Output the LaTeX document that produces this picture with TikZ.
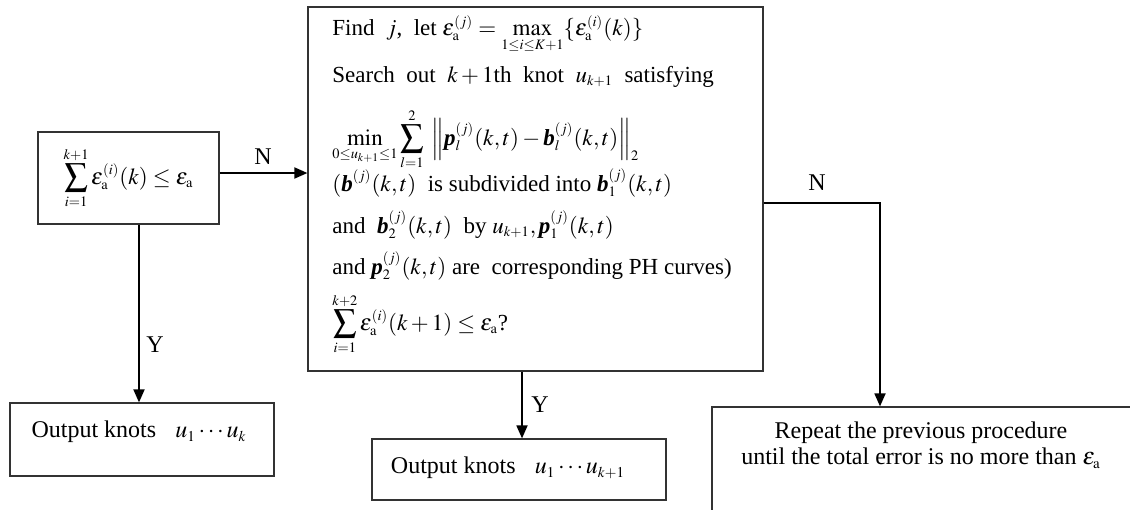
\documentclass[tikz,border=0pt]{standalone}
\usepackage{amsmath}
\usepackage{mathptmx}
\usepackage[no-math]{fontspec}
\setmainfont{Liberation Serif}
\usetikzlibrary{arrows.meta}
\DeclareMathSizes{12}{12}{7.5}{6}
\DeclareMathSizes{11.5}{11.5}{7.2}{5.8}
\newcommand{\bv}[1]{\mbox{\normalfont\bfseries\itshape #1}}
\newcommand{\ea}{\varepsilon_{\mathrm{a}}}
\begin{document}
\begin{tikzpicture}[x=0.5pt,y=-0.5pt,font=\fontsize{12}{13}\selectfont,
  box/.style={draw=black!80,line width=0.6pt,inner sep=0pt},
  conn/.style={line width=0.9pt,-{Triangle[length=6.5pt,width=5.5pt]}},
  lbl/.style={inner sep=0pt},
  mtxt/.style={inner sep=0pt,anchor=base west,font=\fontsize{11.5}{13}\selectfont}]
\useasboundingbox (0,0) rectangle (1130,509);
\clip (0,0) rectangle (1130,509);
% boxes
\node[box,minimum width=90.5pt,minimum height=46pt,font=\fontsize{11.5}{13}\selectfont] (cond) at (128.5,178)
  {$\displaystyle\sum_{i=1}^{k+1}\ea^{(i)}(k)\le\ea$};
\node[box,minimum width=227.5pt,minimum height=182pt] (main) at (535.5,189) {};
\node[box,minimum width=132pt,minimum height=36.5pt] (out1) at (142,439.5) {};
\node[box,minimum width=147pt,minimum height=30.5pt] (out2) at (519,469.5) {};
\node[box,minimum width=214pt,minimum height=56.5pt] (rep) at (926,463.5) {};
% texts
\node[mtxt] (l1) at (332,35)
  {Find \ $j$, \ let $\ea^{(j)}=\max\limits_{1\le i\le K+1}\{\ea^{(i)}(k)\}$};
\node[mtxt] (l2) at (332,82)
  {Search \ out \ $k+1$th \ knot \ $u_{k+1}$ \ satisfying};
\node[mtxt] (l3) at (332,145)
  {$\displaystyle\min_{0\le u_{k+1}\le 1}\sum_{l=1}^{2}\;\left\|\bv{p}_l^{(j)}(k,t)-\bv{b}_l^{(j)}(k,t)\right\|_2$};
\node[mtxt] (l4) at (332,191)
  {$(\bv{b}^{(j)}(k,t)$ \ is subdivided into $\bv{b}_1^{(j)}(k,t)$};
\node[mtxt] (l5) at (332,233)
  {and \ $\bv{b}_2^{(j)}(k,t)$ \ by $u_{k+1},\bv{p}_1^{(j)}(k,t)$};
\node[mtxt] (l6) at (332,274)
  {and $\bv{p}_2^{(j)}(k,t)$ are \ corresponding PH curves)};
\node[mtxt] (l7) at (332,330)
  {$\displaystyle\sum_{i=1}^{k+2}\ea^{(i)}(k+1)\le\ea$?};
\node[lbl] (t1) at (139,432) {Output knots\hspace{0.8em}$u_1\cdots u_k$};
\node[lbl] (t2) at (508,468) {Output knots\hspace{0.8em}$u_1\cdots u_{k+1}$};
\node[lbl,align=center] (t3) at (921,445)
  {Repeat the previous procedure\\until the total error is no more than $\ea$};
% connectors
\draw[conn] ([xshift=5.25pt]cond.south) -- ([xshift=5.25pt]cond.south |- out1.north);
\draw[conn] ([yshift=2.5pt]cond.east) -- ([yshift=2.5pt]cond.east -| main.west);
\draw[conn] ([xshift=-6.75pt]main.south) -- ([xshift=-6.75pt]main.south |- out2.north);
\draw[conn] ([yshift=-7pt]main.east) -| ([xshift=-23pt]rep.north);
% labels
\node[lbl] (y1) at (155,345) {Y};
\node[lbl] (n1) at (263,157) {N};
\node[lbl] (y2) at (540,405) {Y};
\node[lbl] (n2) at (817,183) {N};
\end{tikzpicture}
\end{document}
